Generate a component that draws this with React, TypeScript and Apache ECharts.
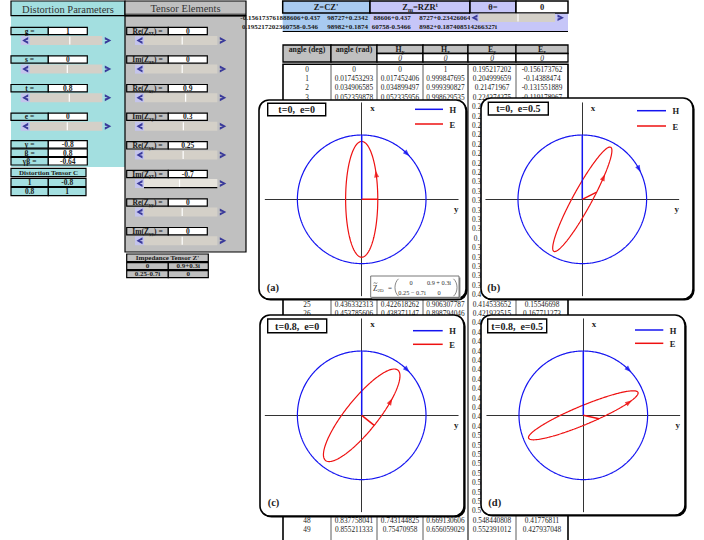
import { useEffect, useRef } from 'react';
import * as echarts from 'echarts';

const SERIF = '"Liberation Serif", "Times New Roman", serif';

// ---------- worksheet inputs ----------
const distLabels = ['g =', 's =', 't =', 'e ='];
const distValues = [1, 0, 0.8, 0]; // g, s, t, e

const tensorPart = ['Re', 'Im', 'Re', 'Im', 'Re', 'Im', 'Re', 'Im'];
const tensorSub = ['xx', 'xx', 'xy', 'xy', 'yx', 'yx', 'yy', 'yy'];
const tensorValues = [0, 0, 0.9, 0.3, 0.25, -0.7, 0, 0];

const rotationDeg = 0; // θ
const angleDeg = Array.from({ length: 361 }, (_, i) => i);
const tableRowCount = 50;
const tableHeaders = ['angle (deg)', 'angle (rad)', 'H|y', 'H|x', 'E|y', 'E|x'];

// ---------- figure panels ----------
const panelTag = ['(a)', '(b)', '(c)', '(d)'];
const panelTwist = [0, 0, 0.8, 0.8];
const panelShear = [0, 0.5, 0, 0.5];
const hArrowDeg = [45, 62, 45, 45];
const eArrowDeg = [26, 17, 30, 40];

// ---------- layout ----------
const W = 704;
const H = 540;
const UNIT = 64.3; // px per field unit inside a panel
const HALF = 1.5; // axis half range
const panelBox = [
  [259, 100, 466, 299],
  [481, 98, 693, 299],
  [260, 315, 464, 516],
  [481, 315, 685, 515],
];
const panelCenter = [
  [361.7, 199.3],
  [582.3, 199.3],
  [361.7, 415.3],
  [583.3, 415.3],
];
const titleBox = [
  [267.7, 103.3, 325.7, 115.7],
  [488.3, 102.3, 548.3, 115],
  [267.7, 319, 326.7, 332.7],
  [487.7, 319, 546.7, 332.7],
];
const legendPos = [
  [415, 443, 109.3, 124],
  [637, 666, 110.7, 126],
  [413, 442.7, 330.7, 344.3],
  [635, 663.3, 330, 343.3],
];
const tagPos = [
  [266.7, 287.7],
  [487.3, 287.3],
  [267.7, 502.7],
  [488.3, 502.7],
];

const CYAN = '#a3dfe0';
const GRAY = '#c0c0c0';
const TRACK = '#d4d0c8';
const BTN = '#c4c4ec';
const CHEV = '#39399a';
const LBLUE = '#a8caf0';
const LAV = '#c6c6f8';
const BLUE = '#1414f0';
const RED = '#ee1111';
const INK = '#1a1a1a';

// ---------- math helpers ----------
type Cx = [number, number];
type M2 = number[][];
const mm = (a: M2, b: M2): M2 => [
  [a[0][0] * b[0][0] + a[0][1] * b[1][0], a[0][0] * b[0][1] + a[0][1] * b[1][1]],
  [a[1][0] * b[0][0] + a[1][1] * b[1][0], a[1][0] * b[0][1] + a[1][1] * b[1][1]],
];

// Groom–Bailey style distortion: g · T(t) · S(e) · A(s), each factor normalised
function distortion(g: number, s: number, t: number, e: number): M2 {
  const nt = 1 / Math.sqrt(1 + t * t);
  const ne = 1 / Math.sqrt(1 + e * e);
  const ns = 1 / Math.sqrt(1 + s * s);
  const T = [[nt, -t * nt], [t * nt, nt]];
  const S = [[ne, e * ne], [e * ne, ne]];
  const A = [[(1 + s) * ns, 0], [0, (1 - s) * ns]];
  const C = mm(mm(T, S), A);
  return C.map((r) => r.map((v) => g * v));
}

const zPrime: Cx[][] = [
  [[tensorValues[0], tensorValues[1]], [tensorValues[2], tensorValues[3]]],
  [[tensorValues[4], tensorValues[5]], [tensorValues[6], tensorValues[7]]],
];
const reZPrime: M2 = zPrime.map((r) => r.map((c) => c[0]));

function applyC(C: M2, Z: Cx[][]): Cx[][] {
  const out: Cx[][] = [[[0, 0], [0, 0]], [[0, 0], [0, 0]]];
  for (let i = 0; i < 2; i++)
    for (let j = 0; j < 2; j++)
      for (let k = 0; k < 2; k++) {
        out[i][j][0] += C[i][k] * Z[k][j][0];
        out[i][j][1] += C[i][k] * Z[k][j][1];
      }
  return out;
}
function rotate(Z: Cx[][], deg: number): Cx[][] {
  const a = (deg * Math.PI) / 180;
  const R = [[Math.cos(a), Math.sin(a)], [-Math.sin(a), Math.cos(a)]];
  const RT = [[R[0][0], R[1][0]], [R[0][1], R[1][1]]];
  const left = applyC(R, Z);
  const out: Cx[][] = [[[0, 0], [0, 0]], [[0, 0], [0, 0]]];
  for (let i = 0; i < 2; i++)
    for (let j = 0; j < 2; j++)
      for (let k = 0; k < 2; k++) {
        out[i][j][0] += left[i][k][0] * RT[k][j];
        out[i][j][1] += left[i][k][1] * RT[k][j];
      }
  return out;
}

// E = Re(Z)·H for H = (cos φ, sin φ); plotted as [y, x]
function ePoint(R: M2, deg: number): number[] {
  const a = (deg * Math.PI) / 180;
  const hx = Math.cos(a);
  const hy = Math.sin(a);
  return [R[1][0] * hx + R[1][1] * hy, R[0][0] * hx + R[0][1] * hy];
}
function hPoint(deg: number): number[] {
  const a = (deg * Math.PI) / 180;
  return [Math.sin(a), Math.cos(a)];
}

const fmt9 = (v: number) => String(Number(v.toFixed(9)));
const fmt15 = (v: number) => (Math.abs(v) < 1e-15 ? '0' : String(Number(v.toPrecision(15))));
const complexText = (c: Cx) => fmt15(c[0]) + (c[1] >= 0 ? '+' : '') + fmt15(c[1]) + 'i';
const shortComplex = (re: number, im: number, spaced: boolean) => {
  if (im === 0) return String(re);
  const op = im >= 0 ? '+' : spaced ? '\u2212' : '-';
  return spaced ? `${re} ${op} ${Math.abs(im)}i` : `${re}${op}${Math.abs(im)}i`;
};

// ---------- graphic helpers ----------
function txt(x: number, y: number, text: string, size: number, o: any = {}) {
  return {
    type: 'text',
    x,
    y,
    z: o.z ?? 0,
    silent: true,
    style: {
      text,
      fontFamily: SERIF,
      fontSize: size,
      fontWeight: o.bold ? 'bold' : 'normal',
      fontStyle: o.italic ? 'italic' : 'normal',
      fill: o.color ?? INK,
      align: o.align ?? 'center',
      verticalAlign: 'middle',
      rich: o.rich,
    },
  };
}
function box(x1: number, y1: number, x2: number, y2: number, fill: string, stroke: string | null, lw: number, z: number, r = 0) {
  return {
    type: 'rect',
    z,
    silent: true,
    shape: { x: x1, y: y1, width: x2 - x1, height: y2 - y1, r },
    style: { fill, stroke: stroke ?? 'none', lineWidth: lw },
  };
}
function seg(x1: number, y1: number, x2: number, y2: number, stroke: string, lw: number, z: number) {
  return { type: 'line', z, silent: true, shape: { x1, y1, x2, y2 }, style: { stroke, lineWidth: lw } };
}
function curve(x1: number, y1: number, cx1: number, cy1: number, cx2: number, cy2: number, x2: number, y2: number, stroke: string, lw: number, z: number) {
  return {
    type: 'bezierCurve', z, silent: true,
    shape: { x1, y1, cpx1: cx1, cpy1: cy1, cpx2: cx2, cpy2: cy2, x2, y2 },
    style: { stroke, lineWidth: lw, fill: 'none' },
  };
}
function slider(x1: number, x2: number, y1: number, y2: number, tickX: number, z: number, focused = false) {
  const ym = (y1 + y2) / 2;
  const els: any[] = [];
  els.push(box(x1 + 9, y1, x2 - 11, y2, focused ? '#e6e3dc' : TRACK, null, 0, z));
  els.push(box(x1, y1, x1 + 9, y2, BTN, null, 0, z));
  els.push({
    type: 'polygon', z, silent: true,
    shape: { points: [[x1 + 7.5, y1 + 1], [x1 + 1.5, ym], [x1 + 7.5, y2 - 1], [x1 + 7.5, y2 - 3.6], [x1 + 4.6, ym], [x1 + 7.5, y1 + 3.6]] },
    style: { fill: CHEV },
  });
  els.push({
    type: 'polygon', z, silent: true,
    shape: { points: [[x2 - 8.5, y1 + 1], [x2 - 2, ym], [x2 - 8.5, y2 - 1], [x2 - 8.5, y2 - 3.6], [x2 - 5.4, ym], [x2 - 8.5, y1 + 3.6]] },
    style: { fill: CHEV },
  });
  els.push(seg(tickX, y1 + 0.5, tickX, y2 - 0.5, '#ffffff', 1.2, z));
  if (focused) els.push(seg(x1 + 9, y2 - 0.3, x2 - 11, y2 - 0.3, '#000', 1.2, z));
  return els;
}
// centred cell text that is clipped by neighbouring cells
function clipped(str: string, cx: number, y: number, clipL: number, clipR: number, z: number) {
  const cw = 3.55;
  const startX = cx - (str.length * cw) / 2;
  const i0 = Math.max(0, Math.ceil((clipL - startX) / cw));
  const i1 = Math.min(str.length, Math.floor((clipR - startX) / cw));
  return txt(startX + i0 * cw, y, str.slice(i0, i1), 7, { bold: true, align: 'left', z });
}

const subRich = (big: number, small: number) => ({
  n: { fontFamily: SERIF, fontSize: big, fontWeight: 'bold', lineHeight: big + 2, fill: INK },
  s: { fontFamily: SERIF, fontSize: small, fontWeight: 'bold', lineHeight: small, verticalAlign: 'bottom', fill: INK },
  p: { fontFamily: SERIF, fontSize: small, fontWeight: 'bold', lineHeight: small, verticalAlign: 'top', fill: INK },
});

// rows of the H/E table that sit behind a figure panel (only a sliver of the Ey column shows)
const behindPanel = (y: number) => (y > 101 && y < 299) || (y > 318 && y < 514);

function buildSheet(): any[] {
  const g: any[] = [];
  const [gg, ss, tt, ee] = distValues;

  // ----- Distortion Parameters block -----
  g.push(box(11, 16, 125, 167, CYAN, null, 0, 0));
  g.push(box(11, 1, 125, 15.7, CYAN, '#000', 1.2, 0));
  g.push(txt(68, 9, 'Distortion Parameters', 10.5, { color: '#333' }));
  const rowY = (i: number) => 27.3 + 28.6 * i;
  distLabels.forEach((lab, i) => {
    const y1 = rowY(i);
    g.push(box(11, y1, 48.3, y1 + 7.3, CYAN, '#000', 1.2, 0));
    g.push(box(48.3, y1, 87.3, y1 + 7.3, '#fff', '#000', 1.2, 0));
    g.push(txt(29.6, y1 + 3.8, lab, 7.5, { bold: true }));
    g.push(txt(67.8, y1 + 3.8, String(distValues[i]), 7.5, { bold: true }));
    g.push(...slider(20.7, 113.3, y1 + 8.7, y1 + 17.7, 67.3 + 2.5 * distValues[i], 0));
  });
  const C = [[1 - tt * ee, ee - tt], [tt + ee, 1 + tt * ee]];
  const gamma = ee - tt;
  const beta = ee + tt;
  const gbLabels = ['\u03b3 =', '\u03b2 =', '\u03b3\u03b2 ='];
  const gbValues = [gamma, beta, gamma * beta];
  gbLabels.forEach((lab, i) => {
    const y1 = 140.6 + 8.4 * i;
    g.push(box(11, y1, 48.3, y1 + 7.6, CYAN, '#000', 1.2, 0));
    g.push(box(48.3, y1, 87.3, y1 + 7.6, '#fff', '#000', 1.2, 0));
    g.push(txt(29.6, y1 + 4, lab, 7.5, { bold: true }));
    g.push(txt(67.8, y1 + 4, fmt9(gbValues[i]), 7.5, { bold: true }));
  });
  g.push(box(11, 168.3, 86, 176.7, CYAN, '#000', 1.2, 0));
  g.push(txt(48.5, 172.6, 'Distortion Tensor C', 7, { bold: true }));
  C.forEach((row, r) => {
    const y1 = 178.3 + 9.2 * r;
    g.push(box(11, y1, 48.3, y1 + 8.2, CYAN, '#000', 1.2, 0));
    g.push(box(48.3, y1, 86, y1 + 8.2, CYAN, '#000', 1.2, 0));
    g.push(txt(29.6, y1 + 4.2, fmt9(row[0]), 7.5, { bold: true }));
    g.push(txt(67.2, y1 + 4.2, fmt9(row[1]), 7.5, { bold: true }));
  });

  // ----- Tensor Elements block -----
  g.push(box(125, 16, 246, 252, GRAY, '#000', 1.2, 0));
  g.push(box(125, 1, 246, 15.7, GRAY, '#000', 1.2, 0));
  g.push(seg(125, 14.2, 246, 14.2, '#000', 0.8, 0));
  g.push(txt(185.5, 8.5, 'Tensor Elements', 10.5, { color: '#333' }));
  tensorValues.forEach((v, i) => {
    const y1 = rowY(i);
    g.push(box(126.7, y1, 168.3, y1 + 7.3, GRAY, '#000', 1.2, 0));
    g.push(box(168.3, y1, 207.3, y1 + 7.3, '#fff', '#000', 1.2, 0));
    g.push(txt(147.5, y1 + 3.8, `{n|${tensorPart[i]}(Z}{s|${tensorSub[i]}}{n|) =}`, 7.5, { rich: subRich(7.5, 5.2) }));
    g.push(txt(187.8, y1 + 3.8, String(v), 7.5, { bold: true }));
    g.push(...slider(135, 228.3, y1 + 8.7, y1 + 17.7, 182.2 + 3.8 * v, 0, i === 5));
  });
  g.push(box(126.7, 254, 208.3, 261.7, GRAY, '#000', 1.2, 0));
  g.push(txt(167.5, 258, "Impedance Tensor Z'", 7, { bold: true }));
  zPrime.forEach((row, r) => {
    const y1 = 262.6 + 8 * r;
    g.push(box(126.7, y1, 168.3, y1 + 7, GRAY, '#000', 1.2, 0));
    g.push(box(168.3, y1, 208.3, y1 + 7, GRAY, '#000', 1.2, 0));
    g.push(txt(147.5, y1 + 3.6, shortComplex(row[0][0], row[0][1], false), 7, { bold: true }));
    g.push(txt(188.3, y1 + 3.6, shortComplex(row[1][0], row[1][1], false), 7, { bold: true }));
  });

  // ----- Z = CZ' and Zm = RZR^t block -----
  const Cn = distortion(gg, ss, tt, ee);
  const Z = applyC(Cn, zPrime);
  const Zm = rotate(Z, rotationDeg);
  g.push(box(282.7, 13, 370, 31.5, LBLUE, null, 0, 0));
  g.push(box(370, 13, 568, 31.5, LAV, null, 0, 0));
  g.push(box(282.7, 1, 370, 13, LBLUE, '#000', 1.5, 0));
  g.push(box(370, 1, 470, 13, LAV, '#000', 1.5, 0));
  g.push(box(470, 1, 516, 13, LAV, '#000', 1.5, 0));
  g.push(box(516, 1, 568, 13, '#fff', '#000', 1.5, 0));
  g.push(seg(282.7, 31.5, 568, 31.5, '#000', 1.2, 0));
  g.push(txt(326, 7.3, "Z=CZ'", 8.5, { bold: true }));
  g.push(txt(420, 7.3, '{n|Z}{s|m}{n|=RZR}{p|t}', 8.5, { rich: subRich(8.5, 6) }));
  g.push(txt(493, 7.3, '\u03b8=', 8.5, { bold: true }));
  g.push(txt(542, 7.3, String(rotationDeg), 8.5, { bold: true }));
  const rowsZ = [
    [complexText(Z[0][0]), complexText(Z[0][1]), complexText(Zm[0][0]), complexText(Zm[0][1])],
    [complexText(Z[1][0]), complexText(Z[1][1]), complexText(Zm[1][0]), complexText(Zm[1][1])],
  ];
  const cellEdge = [285, 327, 370, 416, 458];
  rowsZ.forEach((row, r) => {
    const y = 18 + 9 * r;
    row.forEach((s, c) => {
      const cx = (cellEdge[c] + cellEdge[c + 1]) / 2;
      const clipL = c === 0 ? -1000 : cellEdge[c];
      const clipR = c === 3 ? 2000 : cellEdge[c + 1];
      g.push(clipped(s, cx, y, clipL, clipR, 0));
    });
  });
  g.push(...slider(470, 566, 13.6, 22, 518, 0));

  // ----- table of H and E -----
  const colX = [283, 331, 377, 423, 468, 516, 568];
  const hdrTop = 45;
  const hdrMid = 53.5;
  const hdrBot = 62;
  const dataTop = 64.3;
  const rowH = 9.4;
  for (let c = 0; c < 6; c++) {
    const xm = (colX[c] + colX[c + 1]) / 2;
    if (c < 2) {
      g.push(box(colX[c], hdrTop, colX[c + 1], hdrBot, GRAY, '#000', 1.3, 0));
      g.push(txt(xm, 49.8, tableHeaders[c], 7.8, { bold: true }));
    } else {
      const [a, b] = tableHeaders[c].split('|');
      g.push(box(colX[c], hdrTop, colX[c + 1], hdrMid, GRAY, '#000', 1.3, 0));
      g.push(box(colX[c], hdrMid, colX[c + 1], hdrBot, '#fff', '#000', 1.3, 0));
      g.push(txt(xm, 49.6, `{n|${a}}{s|${b}}`, 7.8, { rich: subRich(7.8, 5.5) }));
      g.push(txt(xm, 58, '0', 7.5, { italic: true }));
    }
  }
  const tableBottom = H + 4;
  g.push(box(colX[0], dataTop, colX[6], tableBottom, '#fff', '#000', 1.6, 0));
  for (let c = 1; c < 6; c++) g.push(seg(colX[c], dataTop, colX[c], tableBottom, '#333', c === 4 ? 1.3 : 0.8, 0));
  const cw = 3.65;
  for (let r = 0; r < tableRowCount; r++) {
    const d = angleDeg[r];
    const a = (d * Math.PI) / 180;
    const hy = Math.sin(a);
    const hx = Math.cos(a);
    const ey = Z[1][0][0] * hx + Z[1][1][0] * hy;
    const ex = Z[0][0][0] * hx + Z[0][1][0] * hy;
    const vals = [String(d), fmt9(a), fmt9(hy), fmt9(hx), fmt9(ey), fmt9(ex)];
    const y = dataTop + rowH * r + rowH / 2;
    if (behindPanel(y)) {
      // only the left end of the Ey value peeks out between the panels
      const s = vals[4];
      const startX = (colX[4] + colX[5]) / 2 - (s.length * cw) / 2;
      const n = Math.ceil((481 - startX) / cw);
      if (n > 0) g.push(txt(startX, y, s.slice(0, n), 7.3, { align: 'left' }));
    } else {
      vals.forEach((v, c) => g.push(txt((colX[c] + colX[c + 1]) / 2, y, v, 7.3)));
    }
  }
  return g;
}

function buildPanels(): { graphic: any[]; grids: any[]; xAxes: any[]; yAxes: any[]; series: any[] } {
  const graphic: any[] = [];
  const grids: any[] = [];
  const xAxes: any[] = [];
  const yAxes: any[] = [];
  const series: any[] = [];
  const [gg, ss] = distValues;
  panelTag.forEach((tag, i) => {
    const [x1, y1, x2, y2] = panelBox[i];
    const [cx, cy] = panelCenter[i];
    graphic.push(box(x1 + 1.6, y1 + 1.6, x2 + 1.6, y2 + 1.6, '#000', null, 0, 1, 10));
    graphic.push(box(x1, y1, x2, y2, '#fff', '#000', 1.6, 1, 10));

    const half = HALF * UNIT;
    grids.push({ left: cx - half, top: cy - half, width: 2 * half, height: 2 * half, containLabel: false });
    const axisBase = {
      type: 'value',
      gridIndex: i,
      min: -HALF,
      max: HALF,
      z: 2,
      axisLine: { onZero: true, lineStyle: { color: '#333', width: 1 } },
      axisTick: { show: false },
      axisLabel: { show: false },
      splitLine: { show: false },
    };
    xAxes.push({ ...axisBase });
    yAxes.push({ ...axisBase });

    const R = mm(distortion(gg, ss, panelTwist[i], panelShear[i]), reZPrime);
    const common = { xAxisIndex: i, yAxisIndex: i, silent: true, animation: false };
    series.push({
      ...common, type: 'line', name: 'H', z: 3, showSymbol: false, symbol: 'none',
      data: angleDeg.map((d) => hPoint(d)), lineStyle: { color: BLUE, width: 1.2 },
    });
    series.push({
      ...common, type: 'line', name: 'E', z: 3, showSymbol: false, symbol: 'none',
      data: angleDeg.map((d) => ePoint(R, d)), lineStyle: { color: RED, width: 1.2 },
    });
    series.push({
      ...common, type: 'line', name: 'H', z: 3, showSymbol: false, symbol: 'none',
      data: [[0, 0], hPoint(angleDeg[0])], lineStyle: { color: BLUE, width: 1.5 },
    });
    series.push({
      ...common, type: 'line', name: 'E', z: 3, showSymbol: false, symbol: 'none',
      data: [[0, 0], ePoint(R, angleDeg[0])], lineStyle: { color: RED, width: 1.5 },
    });
    // direction arrows along H and E
    const ha = (hArrowDeg[i] * Math.PI) / 180;
    const hRot = (Math.atan2(-Math.sin(ha), Math.cos(ha)) * 180) / Math.PI - 90;
    const ea = (eArrowDeg[i] * Math.PI) / 180;
    const dEy = -R[1][0] * Math.sin(ea) + R[1][1] * Math.cos(ea);
    const dEx = -R[0][0] * Math.sin(ea) + R[0][1] * Math.cos(ea);
    const eRot = (Math.atan2(dEx, dEy) * 180) / Math.PI - 90;
    series.push({
      ...common, type: 'scatter', z: 4, symbol: 'triangle', symbolSize: [5, 7],
      data: [
        { value: hPoint(hArrowDeg[i]), symbolRotate: hRot, itemStyle: { color: BLUE } },
        { value: ePoint(R, eArrowDeg[i]), symbolRotate: eRot, itemStyle: { color: RED } },
      ],
    });

    // panel annotations
    const [tx1, ty1, tx2, ty2] = titleBox[i];
    graphic.push(box(tx1, ty1, tx2, ty2, '#fff', '#000', 1.4, 5));
    graphic.push(txt((tx1 + tx2) / 2, (ty1 + ty2) / 2 + 0.3, `t=${panelTwist[i]},  e=${panelShear[i]}`, 10, { bold: true, z: 5 }));
    const [lx1, lx2, ly1, ly2] = legendPos[i];
    graphic.push(seg(lx1, ly1, lx2, ly1, BLUE, 1.5, 5));
    graphic.push(seg(lx1, ly2, lx2, ly2, RED, 1.5, 5));
    graphic.push(txt(lx2 + 6.5, ly1 + 0.5, 'H', 8.5, { bold: true, align: 'left', z: 5, color: '#222' }));
    graphic.push(txt(lx2 + 6.5, ly2 + 0.5, 'E', 8.5, { bold: true, align: 'left', z: 5, color: '#222' }));
    graphic.push(txt(cx + 10.8, cy - 91, 'x', 9, { bold: true, z: 5, color: '#222' }));
    graphic.push(txt(cx + 94.5, cy + 9.3, 'y', 9, { bold: true, z: 5, color: '#222' }));
    graphic.push(txt(tagPos[i][0], tagPos[i][1], tag, 10.5, { bold: true, align: 'left', z: 5, color: '#222' }));
  });

  // tensor inset of panel (a)
  graphic.push(box(372.2, 277.5, 460.5, 298.8, '#9a9a9a', null, 0, 5));
  graphic.push(box(370.7, 276, 459, 297.3, '#fff', '#555', 0.8, 5));
  graphic.push(txt(373, 288.4, '{z|Z}{s|2D}', 7.5, {
    align: 'left', z: 5,
    rich: {
      z: { fontFamily: SERIF, fontSize: 7.5, lineHeight: 9, fill: '#333' },
      s: { fontFamily: SERIF, fontSize: 5, lineHeight: 5, verticalAlign: 'bottom', fill: '#333' },
    },
  }));
  graphic.push(curve(373.6, 283.2, 374.6, 281.8, 376.2, 284.4, 377.4, 282.8, '#333', 0.6, 5));
  graphic.push(txt(388, 287.8, '=', 7, { align: 'left', z: 5, color: '#333' }));
  graphic.push(curve(398.5, 278.8, 393.8, 283, 393.8, 292, 398.5, 296.2, '#555', 0.7, 5));
  graphic.push(curve(453.5, 278.8, 458.2, 283, 458.2, 292, 453.5, 296.2, '#555', 0.7, 5));
  const cells = zPrime.map((row) => row.map((c) => shortComplex(c[0], c[1], true)));
  graphic.push(txt(411, 282.6, cells[0][0], 6.3, { z: 5, color: '#333' }));
  graphic.push(txt(439, 282.6, cells[0][1], 6.3, { z: 5, color: '#333' }));
  graphic.push(txt(412, 292.3, cells[1][0], 6.3, { z: 5, color: '#333' }));
  graphic.push(txt(439, 292.3, cells[1][1], 6.3, { z: 5, color: '#333' }));

  return { graphic, grids, xAxes, yAxes, series };
}

export default function App() {
  const ref = useRef<HTMLDivElement>(null);
  useEffect(() => {
    if (!ref.current) return;
    const chart = echarts.init(ref.current, undefined, { renderer: 'svg', width: W, height: H });
    const sheet = buildSheet();
    const p = buildPanels();
    chart.setOption({
      animation: false,
      backgroundColor: '#ffffff',
      grid: p.grids,
      xAxis: p.xAxes,
      yAxis: p.yAxes,
      series: p.series,
      graphic: { elements: [...sheet, ...p.graphic] },
    });
    return () => chart.dispose();
  }, []);
  return <div ref={ref} style={{ position: 'absolute', left: 0, top: 0, width: W, height: H }} />;
}
